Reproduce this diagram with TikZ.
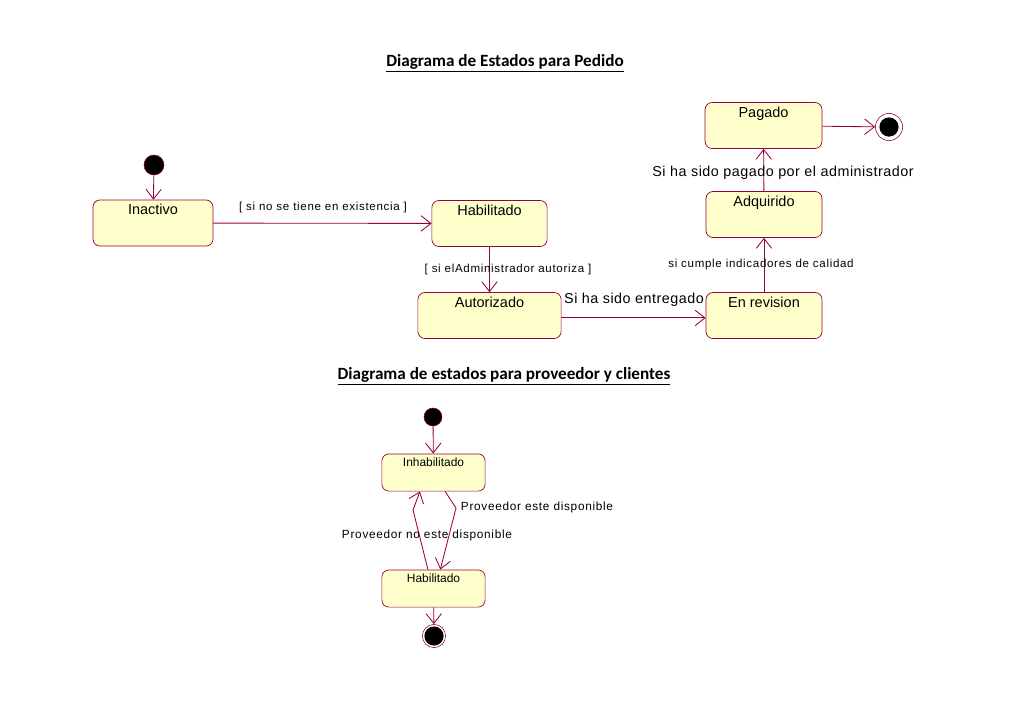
\documentclass[tikz,border=0pt]{standalone}
\usepackage{fontspec}
\setmainfont{Liberation Sans}
\newfontfamily\titlefont{Carlito}
\newfontfamily\guardfont[LetterSpace=6]{Liberation Sans}
\newfontfamily\eventfont[LetterSpace=3.5]{Liberation Sans}
\usetikzlibrary{arrows.meta}
\definecolor{umlline}{RGB}{150,0,60}
\definecolor{umlfill}{RGB}{255,255,204}
\tikzset{
  state/.style={draw=umlline, fill=umlfill, rounded corners=5pt, line width=0.5pt, minimum height=1.15cm, inner sep=0pt},
  smallstate/.style={state, minimum height=0.93cm},
  statetext/.style={anchor=north, inner sep=3pt, font=\fontsize{10.3}{12}\selectfont},
  smalltext/.style={anchor=north, inner sep=3pt, font=\fontsize{8.5}{10}\selectfont},
  initial/.style={circle, draw=umlline, fill=black, inner sep=0pt, minimum size=0.5cm},
  final/.style={circle, draw=umlline, fill=white, inner sep=0pt, minimum size=0.68cm,
    path picture={\fill[black] (path picture bounding box.center) circle (0.24cm);}},
  trans/.style={draw=umlline, line width=0.6pt, -{Straight Barb[length=7pt, width=11pt]}},
  guard/.style={font=\guardfont\fontsize{8.2}{10}\selectfont, inner sep=1pt},
  event/.style={font=\eventfont\fontsize{10.2}{12}\selectfont, inner sep=1pt},
  heading/.style={font=\titlefont\bfseries\fontsize{12.2}{14}\selectfont, inner sep=1pt}
}
\begin{document}
\begin{tikzpicture}[x=0.025cm, y=-0.025cm]
\useasboundingbox (0,0) rectangle (1024,725);
% titulos
\node[heading] (titulo1) at (505,63) {\underline{Diagrama de Estados para Pedido}};
\node[heading] (titulo2) at (504,376) {\underline{Diagrama de estados para proveedor y clientes}};
% estados del pedido
\node[initial] (ini1) at (154,165) {};
\node[state, minimum width=3cm, label={[statetext]north:Inactivo}] (inactivo) at (153,223) {};
\node[state, minimum width=2.88cm, label={[statetext]north:Habilitado}] (habilitado) at (489.5,223.5) {};
\node[state, minimum width=3.58cm, label={[statetext]north:Autorizado}] (autorizado) at (489.5,315.5) {};
\node[state, minimum width=2.9cm, label={[statetext]north:En revision}] (revision) at (764,315.5) {};
\node[state, minimum width=2.9cm, label={[statetext]north:Adquirido}] (adquirido) at (764,214.5) {};
\node[state, minimum width=2.92cm, label={[statetext]north:Pagado}] (pagado) at (763.5,125.5) {};
\node[final] (fin1) at (889,127) {};
\draw[trans] (ini1) -- (inactivo);
\draw[trans] (inactivo) -- (habilitado);
\draw[trans] (habilitado) -- (autorizado);
\draw[trans] ([yshift=-0.06cm]autorizado.east) -- ([yshift=-0.06cm]revision.west);
\draw[trans] (revision) -- (adquirido);
\draw[trans] (adquirido) -- (pagado);
\draw[trans] (pagado) -- (fin1);
\node[guard] (g1) at (323,208) {[ si no se tiene en existencia ]};
\node[guard] (g2) at (508,270) {[ si elAdministrador autoriza ]};
\node[event] (e1) at (634,300) {Si ha sido entregado};
\node[guard] (g3) at (761,265) {si cumple indicadores de calidad};
\node[event] (e2) at (783,173) {Si ha sido pagado por el administrador};
% estados del proveedor
\node[initial, minimum size=0.45cm] (ini2) at (433,417) {};
\node[smallstate, minimum width=2.58cm, label={[smalltext]north:Inhabilitado}] (inhab) at (433.5,472.5) {};
\node[smallstate, minimum width=2.58cm, label={[smalltext]north:Habilitado}] (hab2) at (433.5,588.5) {};
\node[final, minimum size=0.58cm] (fin2) at (434,636) {};
\coordinate (dobla1) at (456,508);
\coordinate (dobla2) at (413,510);
\draw[trans] (ini2) -- (inhab);
\draw[trans, -] ([xshift=0.29cm]inhab.south) -- (dobla1);
\draw[trans] (dobla1) -- ([xshift=0.17cm]hab2.north);
\draw[trans, -] ([xshift=-0.14cm]hab2.north) -- (dobla2);
\draw[trans] (dobla2) -- ([xshift=-0.34cm]inhab.south);
\draw[trans] (hab2) -- (fin2);
\node[guard, font=\guardfont\fontsize{8.4}{10}\selectfont] (e3) at (537,507) {Proveedor este disponible};
\node[guard, font=\guardfont\fontsize{8.4}{10}\selectfont] (e4) at (427,535) {Proveedor no este disponible};
\end{tikzpicture}
\end{document}
